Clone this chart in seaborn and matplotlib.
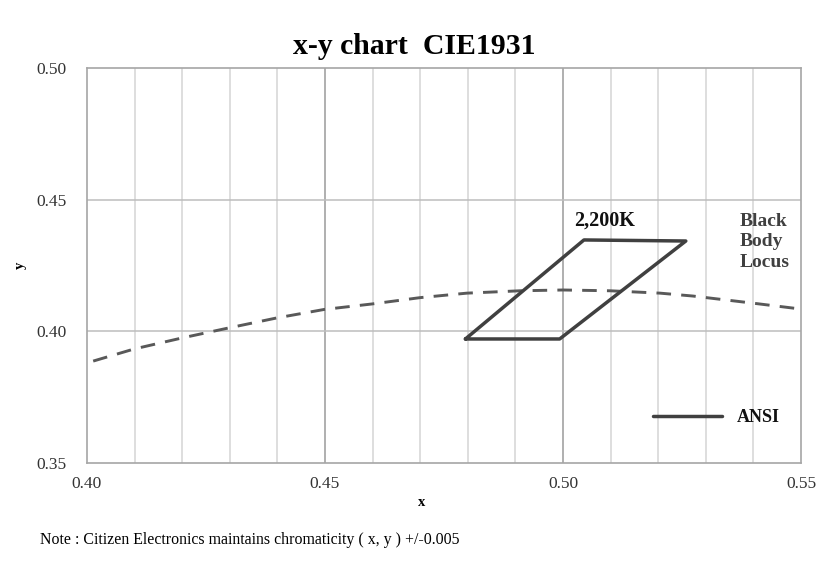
import matplotlib
matplotlib.use("Agg")
import matplotlib.pyplot as plt
import seaborn as sns
import pandas as pd
import numpy as np

# ANSI 2200K quadrangle (closed)
ansi_x = [0.4795, 0.4993, 0.5258, 0.5044, 0.4795]
ansi_y = [0.3971, 0.3971, 0.4343, 0.4347, 0.3971]

# Black body locus
bbl_x = [0.4013, 0.4099, 0.4200, 0.4298, 0.4399, 0.4498, 0.4599, 0.4700,
         0.4798, 0.4910, 0.5000, 0.5099, 0.5204, 0.5273, 0.5399, 0.5498]
bbl_y = [0.3887, 0.3933, 0.3975, 0.4013, 0.4051, 0.4083, 0.4104, 0.4128,
         0.4145, 0.4154, 0.4157, 0.4154, 0.4145, 0.4134, 0.4107, 0.4085]

x_major = [0.40, 0.45, 0.50, 0.55]
y_major = [0.35, 0.40, 0.45, 0.50]

sns.set_theme(style="white")
plt.rcParams['font.family'] = ['Liberation Serif', 'DejaVu Serif']

fig = plt.figure(figsize=(8.39, 5.71), dpi=100)
ax = fig.add_axes([87/839, 1-463/571, (801-87)/839, (463-68)/571])

ax.set_xlim(0.40, 0.55)
ax.set_ylim(0.35, 0.50)

# grid
for v in np.arange(0.41, 0.55, 0.01):
    if not any(abs(v - m) < 1e-6 for m in x_major):
        ax.axvline(v, color="#d4d4d4", lw=1.1, zorder=0)
for v in x_major[1:-1]:
    ax.axvline(v, color="#9a9a9a", lw=1.1, zorder=0)
for v in y_major[1:-1]:
    ax.axhline(v, color="#bdbdbd", lw=1.1, zorder=0)

bbl_df = pd.DataFrame({"x": bbl_x, "y": bbl_y})
sns.lineplot(data=bbl_df, x="x", y="y", ax=ax, sort=False, color="#595959",
             lw=2.1, dashes=False, linestyle=(0, (5, 3.5)), estimator=None, zorder=2)

ansi_df = pd.DataFrame({"x": ansi_x, "y": ansi_y})
sns.lineplot(data=ansi_df, x="x", y="y", ax=ax, sort=False, color="#404040",
             lw=2.5, estimator=None, label="ANSI", zorder=3)

ax.set_xticks(x_major)
ax.set_yticks(y_major)
ax.set_xticklabels([f"{v:.2f}" for v in x_major])
ax.set_yticklabels([f"{v:.2f}" for v in y_major])
ax.tick_params(axis="both", labelsize=12.5, colors="#333333", length=0)
ax.tick_params(axis="y", pad=15)
ax.tick_params(axis="x", pad=9)
for s in ax.spines.values():
    s.set_color("#a6a6a6")
    s.set_linewidth(1.2)

ax.set_xlabel("x", fontsize=10.5, fontweight="bold", color="black")
ax.set_ylabel("y", fontsize=10.5, fontweight="bold", color="black")
ax.yaxis.set_label_coords(-(87 - 20) / 714, 0.50)
ax.xaxis.set_label_coords((422 - 87) / 714, -(503 - 463) / 395)
ax.xaxis.label.set_va("center")
ax.yaxis.label.set_va("center")

fig.text(414/839, 1-46/571, "x-y chart  CIE1931", ha="center", va="center",
         fontsize=21.4, fontweight="bold", color="black")

ax.text(0.5087, 0.4419, "2,200K", ha="center", va="center",
        fontsize=14.5, fontweight="bold", color="#111111")
ax.text(0.5372, 0.4340, "Black\nBody\nLocus", ha="left", va="center",
        fontsize=14, fontweight="bold", color="#404040", linespacing=1.25)

leg = ax.legend(loc="center left", bbox_to_anchor=(644/839, 1-418/571),
                bbox_transform=fig.transFigure, frameon=False, borderpad=0,
                handlelength=3.8, handletextpad=0.85,
                prop={"size": 13, "weight": "bold"})
for t in leg.get_texts():
    t.set_color("#111111")

fig.text(40/839, 1-540/571, "Note : Citizen Electronics maintains chromaticity ( x, y ) +/-0.005",
         ha="left", va="center", fontsize=11.4, color="black")

fig.savefig("out.png", dpi=100)
